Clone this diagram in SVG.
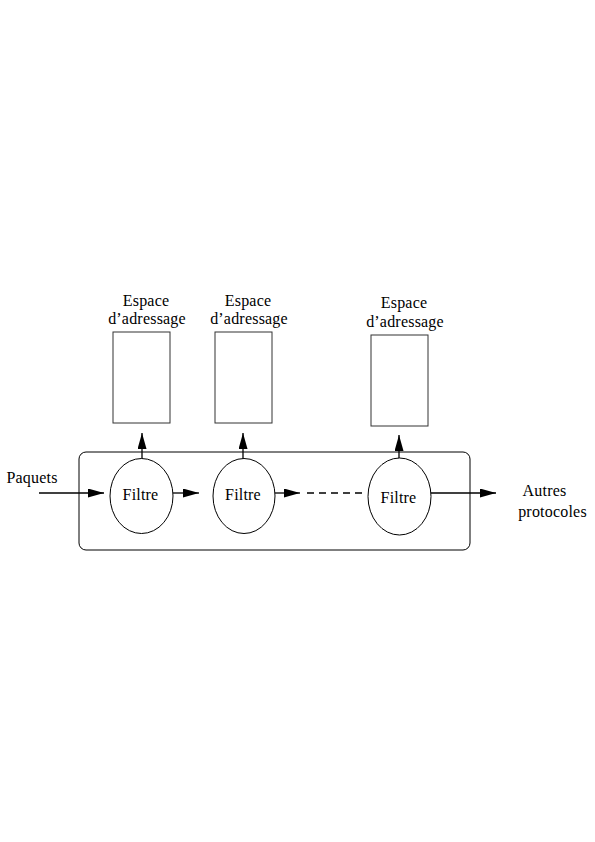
<svg xmlns="http://www.w3.org/2000/svg" width="595" height="842" viewBox="0 0 595 842">
<defs>
<marker id="ah" markerUnits="userSpaceOnUse" markerWidth="18" markerHeight="10" refX="16" refY="4.5" orient="auto">
<path d="M0,0 L16,4.5 L0,9 Z" fill="#000"/>
</marker>
<style>
text{font-family:"Liberation Serif","Times New Roman",serif;font-size:16px;letter-spacing:0.2px;fill:#000;text-anchor:middle}
.box{fill:#fff;stroke:#333;stroke-width:1}
.ell{fill:#fff;stroke:#000;stroke-width:1}
.ln{stroke:#000;stroke-width:1.3;fill:none}
.arr{stroke:#000;stroke-width:1.3;fill:none;marker-end:url(#ah)}
</style>
</defs>
<rect width="595" height="842" fill="#fff"/>
<g id="container">
<rect x="79" y="452" width="391" height="98" rx="7" ry="7" fill="none" stroke="#000" stroke-width="1"/>
</g>
<g id="as1">
<rect class="box" x="113" y="332" width="57" height="91"/>
<text x="146" y="306">Espace</text>
<text x="147" y="324">d’adressage</text>
</g>
<g id="as2">
<rect class="box" x="215" y="332" width="57" height="91"/>
<text x="248" y="306">Espace</text>
<text x="249" y="324">d’adressage</text>
</g>
<g id="as3">
<rect class="box" x="371" y="335" width="57" height="91"/>
<text x="404" y="308">Espace</text>
<text x="405" y="327">d’adressage</text>
</g>
<g id="connectors">
<line class="arr" x1="39" y1="493" x2="104" y2="493"/>
<line class="arr" x1="173" y1="493" x2="199" y2="493"/>
<line class="arr" x1="275" y1="493" x2="300" y2="493"/>
<line class="ln" x1="307" y1="493" x2="366" y2="493" stroke-dasharray="7,5"/>
<line class="arr" x1="431" y1="493" x2="496" y2="493"/>
<line class="arr" x1="142" y1="459" x2="142" y2="433"/>
<line class="arr" x1="243" y1="459" x2="243" y2="433"/>
<line class="arr" x1="399" y1="459" x2="399" y2="435"/>
</g>
<g id="filtre1">
<ellipse class="ell" cx="141.5" cy="496" rx="31.5" ry="37.5"/>
<text x="140.5" y="500">Filtre</text>
</g>
<g id="filtre2">
<ellipse class="ell" cx="244" cy="496" rx="31" ry="37.5"/>
<text x="243" y="500">Filtre</text>
</g>
<g id="filtre3">
<ellipse class="ell" cx="399.5" cy="496.5" rx="31.5" ry="38.5"/>
<text x="398.5" y="503">Filtre</text>
</g>
<g id="labels">
<text x="32" y="483">Paquets</text>
<text x="544.5" y="496">Autres</text>
<text x="552.5" y="517">protocoles</text>
</g>
</svg>
